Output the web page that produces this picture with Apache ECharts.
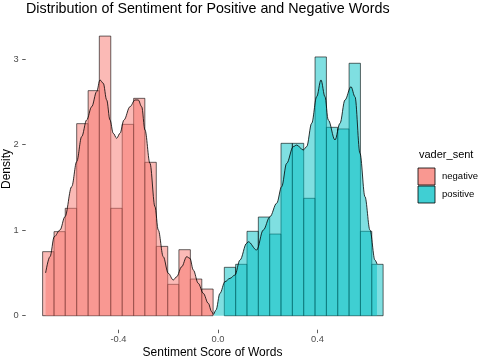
<!DOCTYPE html>
<html>
<head>
<meta charset="utf-8">
<script src="https://cdn.jsdelivr.net/npm/echarts@6/dist/echarts.min.js"></script>
<style>
html,body{margin:0;padding:0;background:#fff;}
#chart{width:485px;height:359px;}
</style>
</head>
<body>
<div id="chart"></div>
<script>
// ---- data ----
var categories = ['negative', 'positive'];
var negBinEdges = [-0.705, -0.659, -0.614, -0.568, -0.522, -0.477, -0.431, -0.385, -0.339, -0.294, -0.248, -0.202, -0.157, -0.111, -0.065, -0.0195];
var negBinHeights = [0.749, 0.983, 1.256, 2.246, 2.632, 3.27, 1.256, 2.238, 2.542, 1.794, 0.811, 0.367, 0.772, 0.429, 0.312];
var posBinEdges = [0.0255, 0.0711, 0.1167, 0.1623, 0.2079, 0.2535, 0.2991, 0.3447, 0.3903, 0.4359, 0.4815, 0.5271, 0.5727, 0.6183, 0.6639];
var posBinHeights = [0.566, 0.601, 0.987, 1.154, 0.955, 2.016, 2.016, 1.373, 3.026, 2.203, 2.184, 2.952, 0.987, 0.601];
var negDensX = [-0.693, -0.6754, -0.6581, -0.6352, -0.6151, -0.5881, -0.568, -0.5479, -0.5278, -0.5077, -0.4876, -0.4744, -0.4611, -0.4474, -0.4342, -0.4209, -0.4072, -0.394, -0.3779, -0.3538, -0.3337, -0.3204, -0.3067, -0.2935, -0.2734, -0.2533, -0.24, -0.2199, -0.1998, -0.1797, -0.166, -0.1459, -0.1258, -0.1126, -0.0993, -0.0792, -0.0591, -0.039, -0.0253, -0.0189];
var negDensY = [0.50, 0.69, 0.924, 1.002, 1.158, 1.509, 1.801, 2.094, 2.289, 2.444, 2.62, 2.757, 2.718, 2.523, 2.289, 2.133, 2.075, 2.133, 2.289, 2.444, 2.523, 2.523, 2.444, 2.172, 1.782, 1.275, 1.002, 0.69, 0.496, 0.418, 0.456, 0.573, 0.69, 0.671, 0.535, 0.379, 0.262, 0.145, 0.047, 0.01];
var posDensX = [-0.016, -0.008, 0.008, 0.0281, 0.0482, 0.0683, 0.0884, 0.1154, 0.1218, 0.1556, 0.1821, 0.209, 0.236, 0.2561, 0.2762, 0.3027, 0.3164, 0.3429, 0.3566, 0.3767, 0.3968, 0.4141, 0.4302, 0.4434, 0.4704, 0.4905, 0.5106, 0.5347, 0.5508, 0.5709, 0.591, 0.6111, 0.6312, 0.6392];
var posDensY = [0.02, 0.067, 0.262, 0.398, 0.437, 0.476, 0.651, 0.847, 0.865, 0.768, 1.002, 1.158, 1.315, 1.509, 1.782, 1.977, 1.996, 1.938, 1.977, 2.25, 2.561, 2.757, 2.561, 2.289, 2.055, 2.25, 2.523, 2.678, 2.561, 1.899, 1.392, 1.002, 0.651, 0.605];
var xTicks = [-0.4, 0.0, 0.4];
var xTickLabels = ['-0.4', '0.0', '0.4'];
var yTicks = [0, 1, 2, 3];

// ---- build ----
function bins(edges, heights) {
  var out = [];
  for (var i = 0; i < heights.length; i++) out.push([edges[i], edges[i + 1], heights[i]]);
  return out;
}
function pairs(xs, ys) {
  var out = [];
  for (var i = 0; i < xs.length; i++) out.push([xs[i], ys[i]]);
  return out;
}
var NEG_A = 'rgba(248,118,109,0.5)', POS_A = 'rgba(0,191,196,0.5)';
var FONT = '"Liberation Sans", Arial, sans-serif';

function histSeries(name, data, fill) {
  return {
    type: 'custom', name: name, data: data,
    encode: { x: [0, 1], y: 2 },
    renderItem: function (params, api) {
      var p0 = api.coord([api.value(0), api.value(2)]);
      var p1 = api.coord([api.value(1), 0]);
      return {
        type: 'rect',
        shape: { x: p0[0], y: p0[1], width: p1[0] - p0[0], height: p1[1] - p0[1] },
        style: { fill: fill, stroke: 'rgba(0,0,0,0.85)', lineWidth: 0.7 }
      };
    }
  };
}
function densSeries(name, data, fill) {
  return {
    type: 'line', name: name, data: data, smooth: 0.35, smoothMonotone: 'x',
    symbol: 'none', lineStyle: { color: '#000', width: 0.8 },
    areaStyle: { color: fill, opacity: 1 }
  };
}

var chart = echarts.init(document.getElementById('chart'), null, { renderer: 'canvas' });
chart.setOption({
  animation: false,
  backgroundColor: '#fff',
  textStyle: { fontFamily: FONT },
  title: {
    text: 'Distribution of Sentiment for Positive and Negative Words',
    left: 26, top: 2, padding: 0,
    textStyle: { fontSize: 14.3, fontWeight: 'normal', color: '#000', fontFamily: FONT }
  },
  grid: { left: 25.7, right: 85.2, top: 22.1, bottom: 29.3 },
  xAxis: {
    type: 'value', min: -0.773, max: 0.731,
    axisLine: { show: false, onZero: false }, splitLine: { show: false },
    axisTick: { show: true, customValues: xTicks, length: 3.5, lineStyle: { color: '#333', width: 0.8 } },
    axisLabel: {
      customValues: xTicks, margin: 5.5, color: '#4D4D4D', fontSize: 9.3, fontFamily: FONT,
      formatter: function (v) { var i = xTicks.indexOf(v); return i >= 0 ? xTickLabels[i] : ''; }
    }
  },
  yAxis: {
    type: 'value', min: -0.1635, max: 3.4335,
    axisLine: { show: false, onZero: false }, splitLine: { show: false },
    axisTick: { show: true, customValues: yTicks, length: 3.5, lineStyle: { color: '#333', width: 0.8 } },
    axisLabel: { customValues: yTicks, margin: 7, color: '#4D4D4D', fontSize: 9.3, fontFamily: FONT }
  },
  series: [
    histSeries(categories[0], bins(negBinEdges, negBinHeights), NEG_A),
    histSeries(categories[1], bins(posBinEdges, posBinHeights), POS_A),
    densSeries(categories[0], pairs(negDensX, negDensY), NEG_A),
    densSeries(categories[1], pairs(posDensX, posDensY), POS_A)
  ],
  graphic: [
    { type: 'text', x: 212.5, y: 353, style: { text: 'Sentiment Score of Words', fill: '#000', font: '12px ' + FONT, align: 'center', verticalAlign: 'middle' }, z: 10 },
    { type: 'text', x: 7, y: 169, rotation: Math.PI / 2, style: { text: 'Density', fill: '#000', font: '12px ' + FONT, align: 'center', verticalAlign: 'middle' }, z: 10 },
    { type: 'text', x: 419, y: 155, style: { text: 'vader_sent', fill: '#000', font: '11px ' + FONT, align: 'left', verticalAlign: 'middle' }, z: 10 },
    { type: 'rect', shape: { x: 418, y: 168, width: 17, height: 17 }, style: { fill: 'rgb(249,152,145)', stroke: '#000', lineWidth: 0.8 }, z: 10 },
    { type: 'rect', shape: { x: 418, y: 186, width: 17, height: 17 }, style: { fill: 'rgb(64,207,211)', stroke: '#000', lineWidth: 0.8 }, z: 10 },
    { type: 'text', x: 442, y: 176, style: { text: categories[0], fill: '#000', font: '9.5px ' + FONT, align: 'left', verticalAlign: 'middle' }, z: 10 },
    { type: 'text', x: 442, y: 194.5, style: { text: categories[1], fill: '#000', font: '9.5px ' + FONT, align: 'left', verticalAlign: 'middle' }, z: 10 }
  ]
});
</script>
</body>
</html>
